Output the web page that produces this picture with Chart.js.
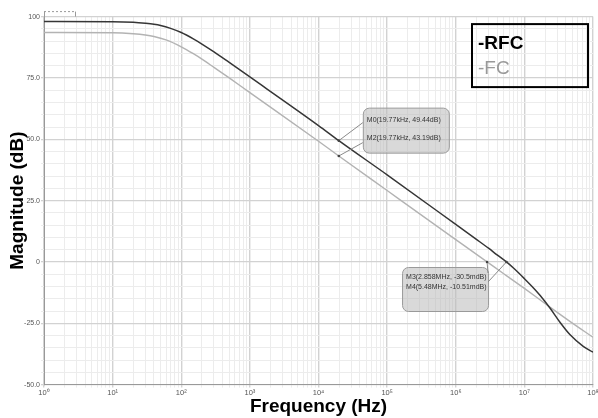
<!DOCTYPE html>
<html>
<head>
<meta charset="utf-8">
<script src="https://cdn.jsdelivr.net/npm/chart.js@4.4.1/dist/chart.umd.min.js"></script>
<style>
  body { margin: 0; background: #fff; }
  #wrap { width: 598px; height: 418px; }
</style>
</head>
<body>
<div id="wrap"><canvas id="bode" width="598" height="418"></canvas></div>
<script>
// values
const rfcFreq = [1, 10, 20, 30, 40, 50, 70, 100, 150, 200, 300, 500, 1e3, 1e4, 19770, 1e5, 1e6, 2e6, 3e6, 4e6, 5.48e6, 7e6, 1e7, 1.4e7, 1.7e7, 2.36e7, 3.3e7, 4.6e7, 7.2e7, 1e8];
const rfcMag  = [98.0, 97.95, 97.7, 97.3, 96.9, 96.4, 95.2, 93.5, 90.9, 88.8, 85.6, 81.3, 75.4, 55.6, 49.44, 35.5, 15.3, 9.2, 5.6, 2.9, 0.0, -2.6, -6.8, -11.0, -13.7, -18.8, -24.6, -29.6, -34.4, -36.8];

const fcFreq = [1, 10, 20, 30, 40, 60, 100, 150, 200, 300, 500, 1e3, 1e4, 19770, 1e5, 1e6, 2.858e6, 5e6, 1e7, 2.36e7, 4.6e7, 1e8];
const fcMag  = [93.5, 93.4, 93.0, 92.5, 91.9, 90.5, 87.7, 84.9, 82.7, 79.3, 75.0, 69.0, 49.2, 43.19, 29.1, 9.1, 0.0, -4.8, -10.8, -18.4, -24.2, -30.7];

const seriesNames = ['-RFC', '-FC'];

const xTickLabels = ['10\u2070', '10\u00b9', '10\u00b2', '10\u00b3', '10\u2074', '10\u2075', '10\u2076', '10\u2077', '10\u2078'];
const yTickValues = [100, 75, 50, 25, 0, -25, -50];
const yTickLabels = ['100', '75.0', '50.0', '25.0', '0', '-25.0', '-50.0'];

const markerFreq = [19770, 19770, 2858000, 5480000];
const markerMag  = [49.44, 43.19, -0.0305, -0.01051];
const markerText = ['M0(19.77kHz, 49.44dB)', 'M2(19.77kHz, 43.19dB)', 'M3(2.858MHz, -30.5mdB)', 'M4(5.48MHz, -10.51mdB)'];

const FONT = "'Liberation Sans', Arial, sans-serif";

function zip(xs, ys) {
  return xs.map((x, i) => ({ x: x, y: ys[i] }));
}

function isDecade(v) {
  const e = Math.log10(v);
  return Math.abs(e - Math.round(e)) < 1e-9;
}

// marker boxes, legend and the little tab on top
const extras = {
  id: 'extras',
  afterDatasetsDraw(chart) {
    const ctx = chart.ctx;
    const xs = chart.scales.x, ys = chart.scales.y;
    const area = chart.chartArea;

    // tab above the plot
    ctx.save();
    ctx.strokeStyle = '#999';
    ctx.lineWidth = 1;
    ctx.beginPath();
    ctx.moveTo(area.left + 0.5, area.top);
    ctx.lineTo(area.left + 0.5, area.top - 5);
    ctx.moveTo(area.left + 31.5, area.top - 5);
    ctx.lineTo(area.left + 31.5, area.top);
    ctx.stroke();
    ctx.setLineDash([2, 2]);
    ctx.beginPath();
    ctx.moveTo(area.left, area.top - 5);
    ctx.lineTo(area.left + 31, area.top - 5);
    ctx.stroke();
    ctx.restore();

    const groups = [
      { idx: [0, 1], dx: 24, dy: -33, w: 86, h: 45, rows: [12, 30], ends: [15, 35], side: 'left' },
      { idx: [2, 3], dx: -85, dy: 5, w: 86, h: 44, rows: [10, 20], ends: [6, 15], side: 'right' }
    ];
    groups.forEach(g => {
      const ax = xs.getPixelForValue(markerFreq[g.idx[0]]);
      const ay = ys.getPixelForValue(markerMag[g.idx[0]]);
      const bx = ax + g.dx, by = ay + g.dy;
      ctx.save();
      ctx.fillStyle = 'rgba(185,185,185,0.55)';
      ctx.strokeStyle = '#9a9a9a';
      ctx.lineWidth = 1;
      ctx.beginPath();
      ctx.roundRect(bx + 0.5, by + 0.5, g.w, g.h, 6);
      ctx.fill();
      ctx.stroke();
      g.idx.forEach((m, k) => {
        const px = xs.getPixelForValue(markerFreq[m]);
        const py = ys.getPixelForValue(markerMag[m]);
        const ex = g.side === 'left' ? bx : bx + g.w;
        ctx.strokeStyle = '#8a8a8a';
        ctx.beginPath();
        ctx.moveTo(px, py);
        ctx.lineTo(ex, by + g.ends[k]);
        ctx.stroke();
        ctx.fillStyle = '#444';
        ctx.beginPath();
        ctx.arc(px, py, 1.3, 0, Math.PI * 2);
        ctx.fill();
        ctx.fillStyle = '#333';
        ctx.font = '7px ' + FONT;
        ctx.textBaseline = 'middle';
        ctx.textAlign = 'left';
        ctx.fillText(markerText[m], bx + 4, by + g.rows[k]);
      });
      ctx.restore();
    });

    // legend
    const lw = 116, lh = 63;
    const lx = area.right - 5 - lw, ly = area.top + 7.5;
    ctx.save();
    ctx.strokeStyle = '#000';
    ctx.lineWidth = 2;
    ctx.strokeRect(lx, ly, lw, lh);
    ctx.textAlign = 'left';
    ctx.textBaseline = 'alphabetic';
    ctx.font = 'bold 19px ' + FONT;
    ctx.fillStyle = '#000';
    ctx.fillText(seriesNames[0], lx + 6, ly + 25);
    ctx.font = '19px ' + FONT;
    ctx.fillStyle = '#999';
    ctx.fillText(seriesNames[1], lx + 6, ly + 50);
    ctx.restore();
  }
};

const ctx = document.getElementById('bode').getContext('2d');

new Chart(ctx, {
  type: 'line',
  data: {
    datasets: [
      {
        label: seriesNames[0],
        data: zip(rfcFreq, rfcMag),
        borderColor: '#363636',
        borderWidth: 1.5,
        pointRadius: 0,
        cubicInterpolationMode: 'monotone',
        fill: false
      },
      {
        label: seriesNames[1],
        data: zip(fcFreq, fcMag),
        borderColor: '#b3b3b3',
        borderWidth: 1.4,
        pointRadius: 0,
        cubicInterpolationMode: 'monotone',
        fill: false
      }
    ]
  },
  options: {
    responsive: false,
    animation: false,
    layout: { padding: { top: 16.6, right: 5, left: 0, bottom: 0 } },
    plugins: {
      legend: { display: false },
      tooltip: { enabled: false }
    },
    scales: {
      x: {
        type: 'logarithmic',
        min: 1,
        max: 1e8,
        afterBuildTicks(scale) {
          const t = [];
          for (let e = 0; e < 8; e++) {
            for (let s = 1; s < 10; s++) t.push({ value: s * Math.pow(10, e) });
          }
          t.push({ value: 1e8 });
          scale.ticks = t;
        },
        afterFit(scale) {
          scale.height = 33.4;
          scale.paddingLeft = 0;
          scale.paddingRight = 0;
        },
        ticks: {
          autoSkip: false,
          maxRotation: 0,
          padding: 1,
          color: '#555',
          font: { family: FONT, size: 7.5 },
          callback: (v) => isDecade(v) ? xTickLabels[Math.round(Math.log10(v))] : ''
        },
        grid: {
          color: (c) => (c.tick && isDecade(c.tick.value)) ? '#d2d2d2' : '#ececec',
          lineWidth: (c) => (c.tick && isDecade(c.tick.value)) ? 1.4 : 1,
          tickLength: 3
        },
        border: { color: '#999' },
        title: {
          display: true,
          text: 'Frequency (Hz)',
          color: '#000',
          font: { family: FONT, size: 19, weight: 'bold' },
          padding: { top: 0, bottom: 0 }
        }
      },
      y: {
        type: 'linear',
        min: -50,
        max: 100,
        afterBuildTicks(scale) {
          const t = [];
          for (let v = -50; v <= 100; v += 5) t.push({ value: v });
          scale.ticks = t;
        },
        afterFit(scale) { scale.width = 44; },
        ticks: {
          autoSkip: false,
          padding: 1,
          color: '#555',
          font: { family: FONT, size: 7 },
          callback: (v) => {
            const i = yTickValues.indexOf(v);
            return i >= 0 ? yTickLabels[i] : '';
          }
        },
        grid: {
          color: (c) => (c.tick && c.tick.value % 25 === 0) ? '#d2d2d2' : '#ececec',
          lineWidth: (c) => (c.tick && c.tick.value % 25 === 0) ? 1.3 : 1,
          tickLength: 3
        },
        border: { color: '#999' },
        title: {
          display: true,
          text: 'Magnitude (dB)',
          color: '#000',
          font: { family: FONT, size: 19, weight: 'bold' },
          padding: { top: 6, bottom: 0 }
        }
      }
    }
  },
  plugins: [extras]
});
</script>
</body>
</html>
